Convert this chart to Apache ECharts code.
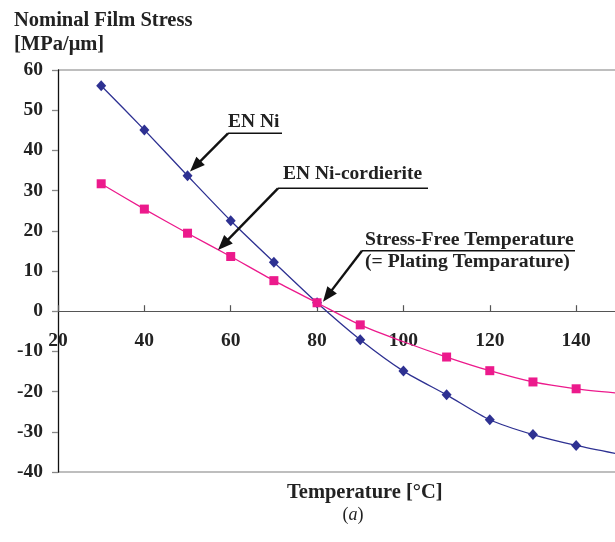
<!DOCTYPE html>
<html>
<head>
<meta charset="utf-8">
<script src="https://cdn.jsdelivr.net/npm/echarts@6/dist/echarts.min.js"></script>
<style>
html,body{margin:0;padding:0;background:#fff;}
#chart{width:615px;height:542px;}
</style>
</head>
<body>
<div id="chart"></div>
<script>
// ---- data ----
var temperatures = [30, 40, 50, 60, 70, 80, 90, 100, 110, 120, 130, 140, 150];
var stressEnNi = [56.1, 45.1, 33.7, 22.5, 12.2, 2.1, -7.1, -14.9, -20.8, -27.0, -30.7, -33.4, -35.6];
var stressEnNiCordierite = [31.7, 25.4, 19.4, 13.6, 7.6, 2.1, -3.4, -7.6, -11.4, -14.8, -17.6, -19.3, -20.4];
var cordieriteHiddenMarkers = [100];
var xTicks = { min: 20, max: 149, step: 20 };
var yTicks = { min: -40, max: 60, step: 10 };

var FONT = '"Liberation Serif", "Times New Roman", serif';
var BLUE = '#2E3192';
var PINK = '#EC1A8C';
var GRID = { left: 58, right: 0, top: 70, bottom: 70 };

function pairs(xs, ys, hidden) {
  return xs.map(function (x, i) {
    var item = { value: [x, ys[i]] };
    if (hidden && hidden.indexOf(x) >= 0) item.symbol = 'none';
    return item;
  });
}

var nLines = (yTicks.max - yTicks.min) / yTicks.step + 1;
var splitColors = [];
for (var i = 0; i < nLines; i++) {
  splitColors.push(i === 0 || i === nLines - 1 ? '#a8a8a8' : 'rgba(0,0,0,0)');
}
// distance from the grid bottom to the y = 0 line (so the x axis sits on zero)
var plotH = 542 - GRID.top - GRID.bottom;
var zeroOffset = -plotH * (0 - yTicks.min) / (yTicks.max - yTicks.min);

function arrow(x1, y1, x2, y2) {
  var dx = x2 - x1, dy = y2 - y1, L = Math.sqrt(dx * dx + dy * dy);
  var ux = dx / L, uy = dy / L, hl = 15, hw = 6;
  var bx = x2 - ux * hl, by = y2 - uy * hl;
  return [
    { type: 'line', shape: { x1: x1, y1: y1, x2: bx + ux * 2, y2: by + uy * 2 }, style: { stroke: '#111', lineWidth: 2.4 }, z: 100 },
    { type: 'polygon', shape: { points: [[x2, y2], [bx - uy * hw, by + ux * hw], [bx + uy * hw, by - ux * hw]] }, style: { fill: '#111' }, z: 100 }
  ];
}
function hline(x1, x2, y) {
  return { type: 'line', shape: { x1: x1, y1: y, x2: x2, y2: y }, style: { stroke: '#111', lineWidth: 1.6 }, z: 100 };
}
function label(text, x, y, size) {
  return {
    type: 'text', x: x, y: y, z: 100,
    style: {
      text: text, fill: '#222',
      font: 'bold ' + (size || 19.5) + 'px ' + FONT,
      textAlign: 'left', textVerticalAlign: 'middle'
    }
  };
}

var graphics = []
  .concat([label('Nominal Film Stress', 14, 20.5, 20.5), label('[MPa/\u03bcm]', 14, 44.5, 20.5)])
  .concat([label('EN Ni', 228, 121.7), hline(228, 282, 133.3)])
  .concat(arrow(228, 133.3, 190, 171.5))
  .concat([label('EN Ni-cordierite', 283, 174), hline(278, 428, 188.3)])
  .concat(arrow(278, 188.3, 218, 250))
  .concat([label('Stress-Free Temperature', 365, 240.3, 19.7), label('(= Plating Temparature)', 365, 261.7, 19.7), hline(362, 575, 250.7)])
  .concat(arrow(362, 250.7, 323, 301.7))
  .concat([label('Temperature [\u00b0C]', 287, 493, 20.5)])
  .concat([{
    type: 'text', x: 353, y: 515, z: 100,
    style: {
      text: '({i|a})', fill: '#222', font: '18px ' + FONT,
      textAlign: 'center', textVerticalAlign: 'middle',
      rich: { i: { fontStyle: 'italic', fontFamily: FONT, fontSize: 18, fill: '#222' } }
    }
  }]);

var chart = echarts.init(document.getElementById('chart'), null, { renderer: 'canvas' });
chart.setOption({
  backgroundColor: '#fff',
  animation: false,
  grid: { left: GRID.left, right: GRID.right, top: GRID.top, bottom: GRID.bottom, containLabel: false },
  xAxis: {
    type: 'value', min: xTicks.min, max: xTicks.max, interval: xTicks.step,
    position: 'bottom', offset: zeroOffset,
    axisLine: { onZero: false, lineStyle: { color: '#555', width: 1.2 } },
    axisTick: { inside: true, length: 6, lineStyle: { color: '#555', width: 1.2 } },
    axisLabel: { margin: 20, showMaxLabel: false, color: '#222', fontFamily: FONT, fontWeight: 'bold', fontSize: 19.5 },
    splitLine: { show: false }
  },
  yAxis: {
    type: 'value', min: yTicks.min, max: yTicks.max, interval: yTicks.step,
    axisLine: { show: true, onZero: false, lineStyle: { color: '#111', width: 1.3 } },
    axisTick: { show: true, inside: false, length: 6, lineStyle: { color: '#888', width: 1.3 } },
    axisLabel: { margin: 15, color: '#222', fontFamily: FONT, fontWeight: 'bold', fontSize: 19.5 },
    splitLine: { show: true, showMinLine: true, showMaxLine: true, lineStyle: { color: splitColors, width: 1.5 } }
  },
  series: [
    {
      name: 'EN Ni', type: 'line', smooth: 0.25, clip: true,
      data: pairs(temperatures, stressEnNi),
      symbol: 'diamond', symbolSize: [10, 11],
      itemStyle: { color: BLUE }, lineStyle: { color: BLUE, width: 1.3 }, z: 3
    },
    {
      name: 'EN Ni-cordierite', type: 'line', smooth: 0.25, clip: true,
      data: pairs(temperatures, stressEnNiCordierite, cordieriteHiddenMarkers),
      symbol: 'rect', symbolSize: 9,
      itemStyle: { color: PINK }, lineStyle: { color: PINK, width: 1.3 }, z: 4
    }
  ],
  graphic: graphics
});
</script>
</body>
</html>
